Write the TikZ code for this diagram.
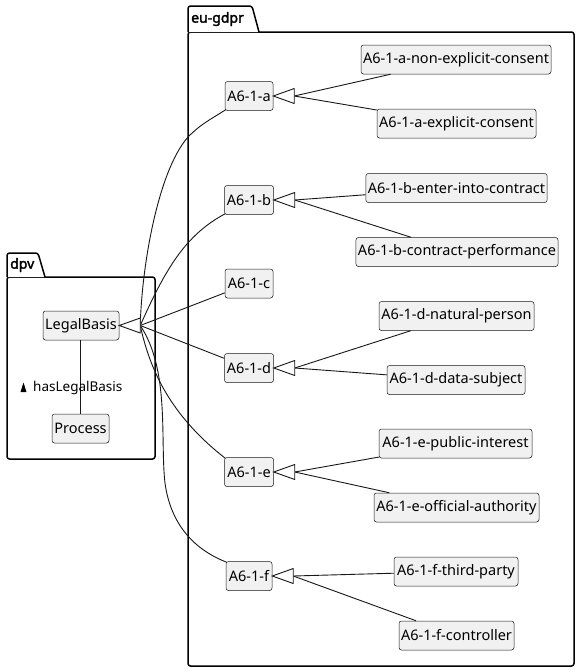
\documentclass[tikz,border=0pt]{standalone}
\usepackage{fontspec}
\setmainfont{Noto Sans}
\newfontfamily\pkgfont{Noto Sans}[FakeBold=2.2]
\usetikzlibrary{calc}
\definecolor{nodefill}{HTML}{F1F1F1}
\definecolor{nodeline}{HTML}{181818}
\tikzset{
  cls/.style={draw=nodeline, line width=0.5pt, fill=nodefill, rounded corners=2.5pt,
    minimum height=29pt, inner xsep=2pt, inner ysep=0pt, font=\fontsize{14.5}{16}\selectfont, text=black},
  pkg/.style={draw=black, line width=1.5pt, rounded corners=2.5pt, fill=white},
  pkglabel/.style={font=\fontsize{14}{16}\pkgfont, inner sep=0pt, anchor=west},
  link/.style={draw=nodeline, line width=0.9pt},
  headtri/.style={draw=nodeline, line width=0.9pt, fill=white, line join=miter},
}
\begin{document}
\begin{tikzpicture}[x=1pt,y=-1pt]
\useasboundingbox[fill=white] (0,0) rectangle (579,672);
% packages
\draw[pkg] (188,32) rectangle (574,666);
\draw[pkg] (188,32) -- (188,6) -- (252,6) -- (259,32);
\node[pkglabel] (gdprlbl) at (191,19) {eu-gdpr};
\draw[pkg] (7,277) rectangle (155,459);
\draw[pkg] (7,277) -- (7,253) -- (38,253) -- (45,277);
\node[pkglabel] (dpvlbl) at (10,265) {dpv};
% nodes
\node[cls, minimum width=76pt] (LB) at (81,325.5) {LegalBasis};
\node[cls, minimum width=57pt] (Proc) at (80.5,428.5) {Process};
\node[cls, minimum width=48pt] (a) at (249,96) {A6-1-a};
\node[cls, minimum width=190pt] (anec) at (456,59.5) {A6-1-a-non-explicit-consent};
\node[cls, minimum width=159pt] (aec) at (456.5,123.5) {A6-1-a-explicit-consent};
\node[cls, minimum width=49pt] (b) at (249,200) {A6-1-b};
\node[cls, minimum width=181pt] (beic) at (456.5,188) {A6-1-b-enter-into-contract};
\node[cls, minimum width=202pt] (bcp) at (457,252) {A6-1-b-contract-performance};
\node[cls, minimum width=48pt] (c) at (249,283.5) {A6-1-c};
\node[cls, minimum width=49pt] (d) at (249,368) {A6-1-d};
\node[cls, minimum width=155pt] (dnp) at (456.5,316) {A6-1-d-natural-person};
\node[cls, minimum width=138pt] (dds) at (456,380) {A6-1-d-data-subject};
\node[cls, minimum width=49pt] (e) at (249,472) {A6-1-e};
\node[cls, minimum width=153pt] (epi) at (455.5,443.5) {A6-1-e-public-interest};
\node[cls, minimum width=165pt] (eoa) at (456.5,507.5) {A6-1-e-official-authority};
\node[cls, minimum width=46pt] (f) at (249,576) {A6-1-f};
\node[cls, minimum width=124pt] (ftp) at (456,571.5) {A6-1-f-third-party};
\node[cls, minimum width=115pt] (fc) at (456.5,635.5) {A6-1-f-controller};
% association LegalBasis - Process
\draw[link] (Proc.north |- LB.south) -- (Proc.north);
\node[font=\fontsize{13.5}{15}\selectfont, inner sep=0pt, anchor=west] (hl) at (33,387.5) {hasLegalBasis};
\fill[black] (20.5,392) -- (26.5,392) -- (23.5,382.5) -- cycle;
% base points of inheritance triangles
\foreach \p in {LB,a,b,d,e,f}{
  \coordinate (\p base) at ($(\p.east)+(21,0)$);
}
% generalisation lines
\draw[link] (anec) -- (abase);
\draw[link] (aec) -- (abase);
\draw[link] (beic) -- (bbase);
\draw[link] (bcp) -- (bbase);
\draw[link] (dnp) -- (dbase);
\draw[link] (dds) -- (dbase);
\draw[link] (epi) -- (ebase);
\draw[link] (eoa) -- (ebase);
\draw[link] (ftp) -- (fbase);
\draw[link] (fc) -- (fbase);
\draw[link] (LBbase) .. controls (142,260) and (160,165) .. (190,135) .. controls (201,125) .. ([xshift=1pt,yshift=1pt]a.south west);
\draw[link] (LBbase) .. controls (165,270) and (185,235) .. ([xshift=1pt,yshift=1pt]b.south west);
\draw[link] (LBbase) -- (c);
\draw[link] (LBbase) -- (d);
\draw[link] (LBbase) .. controls (150,370) and (170,415) .. ([xshift=1pt,yshift=-1pt]e.north west);
\draw[link] (LBbase) .. controls (170,370) and (160,440) .. (165,483) .. controls (170,520) and (190,548) .. ([xshift=1pt,yshift=-1pt]f.north west);
% hollow triangles
\foreach \p in {LB,a,b,d,e,f}{
  \draw[headtri] (\p.east) -- ($(\p base)+(0,-7.5)$) -- ($(\p base)+(0,7.5)$) -- cycle;
}
\end{tikzpicture}
\end{document}
